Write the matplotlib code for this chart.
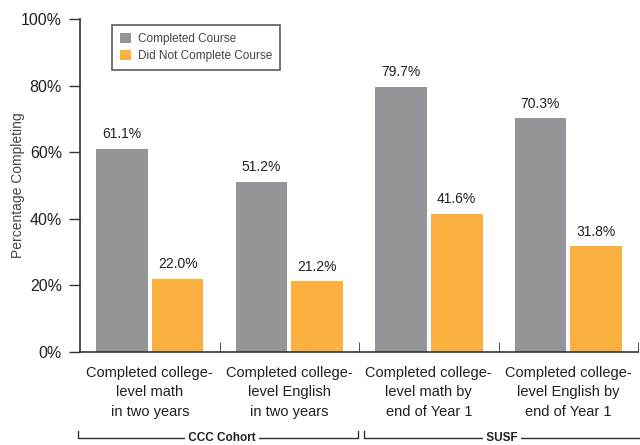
import matplotlib
matplotlib.use("Agg")
import matplotlib.pyplot as plt
import numpy as np
from matplotlib.lines import Line2D

plt.rcParams["font.family"] = ["Liberation Sans Narrow", "Liberation Sans", "DejaVu Sans"]

# data
categories = [
    "Completed college-\nlevel math\nin two years",
    "Completed college-\nlevel English\nin two years",
    "Completed college-\nlevel math by\nend of Year 1",
    "Completed college-\nlevel English by\nend of Year 1",
]
completed = [61.1, 51.2, 79.7, 70.3]
not_completed = [22.0, 21.2, 41.6, 31.8]
series_names = ["Completed Course", "Did Not Complete Course"]
groups = ["CCC Cohort", "SUSF"]

GRAY = "#939598"
ORANGE = "#FBB040"
TEXT = "#231F20"

fig = plt.figure(figsize=(6.4, 4.45), dpi=100)
ax = fig.add_axes([0.125, 0.209, 0.872, 0.748])

x = np.arange(len(categories))
w = 0.37
b1 = ax.bar(x - 0.2, completed, w, color=GRAY, label=series_names[0])
b2 = ax.bar(x + 0.2, not_completed, w, color=ORANGE, label=series_names[1])

for bars, vals in ((b1, completed), (b2, not_completed)):
    for r, v in zip(bars, vals):
        ax.text(r.get_x() + r.get_width() / 2, v + 2.2, f"{v:.1f}%",
                ha="center", va="bottom", fontsize=10, color=TEXT)

ax.set_xlim(-0.5, 3.5)
ax.set_ylim(0, 100)
ax.set_yticks(range(0, 101, 20))
ax.set_yticklabels([f"{t}%" for t in range(0, 101, 20)], fontsize=11.5, color=TEXT)
ax.set_ylabel("Percentage Completing", fontsize=10, color="#444444")
ax.yaxis.set_label_coords(-0.099, 0.5)

ax.set_xticks(x)
ax.set_xticklabels(categories, fontsize=10.5, color=TEXT, linespacing=1.5)
ax.tick_params(axis="x", length=0, pad=10)
ax.set_xticks([0.5, 1.5, 2.5, 3.5], minor=True)
ax.tick_params(axis="x", which="minor", direction="in", length=7, color="#333333")
ax.tick_params(axis="y", direction="out", length=8, width=1, color="#333333", pad=5)

for s in ("top", "right"):
    ax.spines[s].set_visible(False)
for s in ("left", "bottom"):
    ax.spines[s].set_color("#333333")
    ax.spines[s].set_linewidth(1.2)

leg = ax.legend(loc="upper left", bbox_to_anchor=(0.057, 0.982), fontsize=8.5,
                handlelength=0.9, handleheight=0.9, handletextpad=0.6,
                fancybox=False, borderpad=0.7, labelspacing=0.4,
                borderaxespad=0)
leg.get_frame().set_edgecolor("#333333")
leg.get_frame().set_linewidth(1.2)
for t in leg.get_texts():
    t.set_color("#444444")

# group brackets below the category labels
def px(xp, yp):
    return xp / 640, 1 - yp / 445

def bracket(x0, x1, label, xc):
    y_top, y_bot = 431, 438
    pts = [px(x0, y_top), px(x0, y_bot), px(x1, y_bot), px(x1, y_top)]
    xs, ys = zip(*pts)
    fig.add_artist(Line2D(xs, ys, color="#333333", lw=1.0))
    tx, ty = px(xc, 438)
    fig.text(tx, ty, " " + label + " ", ha="center", va="center", fontsize=8.5,
             fontweight="bold", color=TEXT,
             bbox=dict(facecolor="white", edgecolor="none", pad=0.3))

bracket(78, 358, groups[0], 222)
bracket(364, 700, groups[1], 502)

fig.savefig("out.png", dpi=100)
